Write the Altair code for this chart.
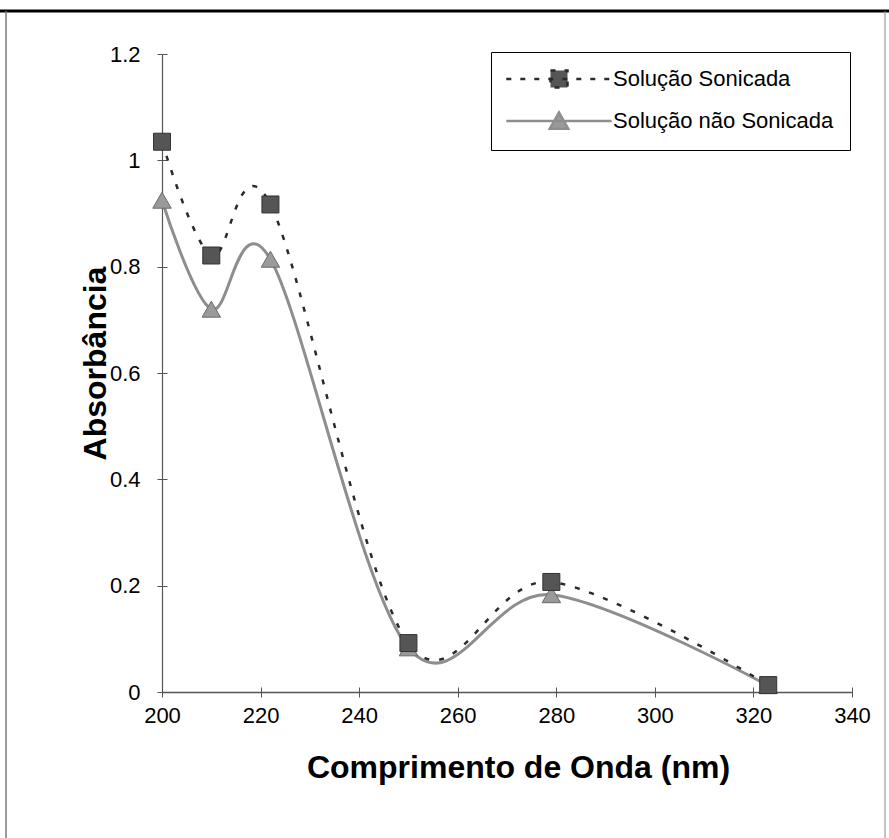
import altair as alt
import pandas as pd

# ---- data ----
wavelength = [200, 210, 222, 250, 279, 323]
sonicada = [1.035, 0.821, 0.917, 0.092, 0.207, 0.013]
nao_sonicada = [0.925, 0.720, 0.814, 0.083, 0.183, 0.012]
series_names = ["Solução Sonicada", "Solução não Sonicada"]
x_ticks = [200, 220, 240, 260, 280, 300, 320, 340]
y_ticks = [0, 0.2, 0.4, 0.6, 0.8, 1, 1.2]

rows = []
for name, vals in zip(series_names, [sonicada, nao_sonicada]):
    for w, a in zip(wavelength, vals):
        rows.append({"serie": name, "wl": w, "abs": a})
df = pd.DataFrame(rows)

FONT = "Liberation Sans"
AX = "#555555"
DARK = "#2a2a2a"
GRAY = "#8e8e8e"
SQ_FILL = "#555555"
TRI_FILL = "#9a9a9a"

xscale = alt.Scale(domain=[200, 340], nice=False, zero=False)
yscale = alt.Scale(domain=[0, 1.2], nice=False, zero=True)

x_main = alt.Axis(values=x_ticks, grid=False, domainColor=AX, domainWidth=1.5,
                  tickColor=AX, tickSize=5, labelFont=FONT, labelFontSize=22,
                  labelColor="black", labelPadding=8, labelFlush=False,
                  title="Comprimento de Onda (nm)", titleFont=FONT, titleFontSize=32,
                  titleFontWeight="bold", titleColor="black", titleX=356, titleY=75,
                  titleBaseline="middle", titleAlign="center")
y_main = alt.Axis(values=y_ticks, grid=False, domainColor=AX, domainWidth=1.2,
                  tickColor=AX, tickSize=5, labelFont=FONT, labelFontSize=22,
                  labelColor="black", labelPadding=17, labelFlush=False,
                  labelExpr="'' + datum.value",
                  title="Absorbância", titleFont=FONT, titleFontSize=32,
                  titleFontWeight="bold", titleColor="black", titleX=-67, titleY=309,
                  titleBaseline="middle", titleAlign="center", titleAngle=270)
x_inner = alt.Axis(values=x_ticks, orient="bottom", offset=-5, grid=False, domain=False,
                   labels=False, title=None, tickColor=AX, tickSize=5)
y_inner = alt.Axis(values=y_ticks, orient="left", offset=-5, grid=False, domain=False,
                   labels=False, title=None, tickColor=AX, tickSize=5)

base = alt.Chart(df)

line_nao = base.transform_filter(alt.datum.serie == series_names[1]).mark_line(
    color=GRAY, strokeWidth=3, interpolate="cardinal", tension=0
).encode(
    x=alt.X("wl:Q", scale=xscale, axis=x_main),
    y=alt.Y("abs:Q", scale=yscale, axis=y_main),
)

line_son = base.transform_filter(alt.datum.serie == series_names[0]).mark_line(
    color=DARK, strokeWidth=2.5, strokeDash=[5, 10], interpolate="cardinal", tension=0
).encode(
    x=alt.X("wl:Q", scale=xscale, axis=None),
    y=alt.Y("abs:Q", scale=yscale, axis=None),
)

tri = base.transform_filter(alt.datum.serie == series_names[1]).mark_point(
    shape="triangle-up", filled=True, fill=TRI_FILL, stroke="#6a6a6a", strokeWidth=1,
    size=340, opacity=1
).encode(
    x=alt.X("wl:Q", scale=xscale, axis=x_inner),
    y=alt.Y("abs:Q", scale=yscale, axis=y_inner),
)

sq = base.transform_filter(alt.datum.serie == series_names[0]).mark_point(
    shape="square", filled=True, fill=SQ_FILL, stroke="#333333", strokeWidth=1,
    size=289, opacity=1
).encode(
    x=alt.X("wl:Q", scale=xscale, axis=None),
    y=alt.Y("abs:Q", scale=yscale, axis=None),
)

# legend symbols: a line segment with the marker in the middle
sq_path = "M-6.2,0H6.2M-1,-1H1V1H-1Z"
tri_path = "M-6.2,0H6.2M0,-1.0L1.08,0.9H-1.08Z"

leg = alt.Legend(title=None, orient="none", legendX=329, legendY=-2,
                 strokeColor="black", fillColor="white", padding=16,
                 rowPadding=14, symbolSize=289, symbolOffset=41, labelOffset=43,
                 symbolStrokeWidth=2.5, symbolOpacity=1, labelFont=FONT,
                 labelFontSize=22, labelColor="black", labelLimit=400)

legend_layer = base.mark_point(filled=True, opacity=0).encode(
    x=alt.X("wl:Q", scale=xscale, axis=None),
    y=alt.Y("abs:Q", scale=yscale, axis=None),
    fill=alt.Fill("serie:N", scale=alt.Scale(domain=series_names, range=[SQ_FILL, TRI_FILL]), legend=leg),
    stroke=alt.Stroke("serie:N", scale=alt.Scale(domain=series_names, range=[DARK, GRAY]), legend=leg),
    shape=alt.Shape("serie:N", scale=alt.Scale(domain=series_names, range=[sq_path, tri_path]), legend=leg),
    strokeDash=alt.StrokeDash("serie:N", scale=alt.Scale(domain=series_names, range=[[5, 9], [1, 0]]), legend=leg),
)

frame_data = alt.Data(values=[{"k": 1}])
frame_top = alt.Chart(frame_data).mark_rule(color="black", strokeWidth=3).encode(
    x=alt.value(-162), x2=alt.value(727), y=alt.value(-43))
frame_left = alt.Chart(frame_data).mark_rule(color="#777777", strokeWidth=1.5).encode(
    x=alt.value(-156), y=alt.value(-43), y2=alt.value(784))
frame_right = alt.Chart(frame_data).mark_rule(color="#888888", strokeWidth=1).encode(
    x=alt.value(723), y=alt.value(-43), y2=alt.value(784))

chart = alt.layer(
    line_nao, line_son, tri, sq, legend_layer, frame_top, frame_left, frame_right
).resolve_axis(x="independent", y="independent").properties(
    width=690, height=638,
    padding={"left": 162, "top": 54, "right": 37, "bottom": 146},
    autosize=alt.AutoSizeParams(type="none"),
    background="white",
).configure_view(stroke=None).configure_legend(strokeWidth=1)

chart.save("out.html", embed_options={"renderer": "svg", "actions": False})
